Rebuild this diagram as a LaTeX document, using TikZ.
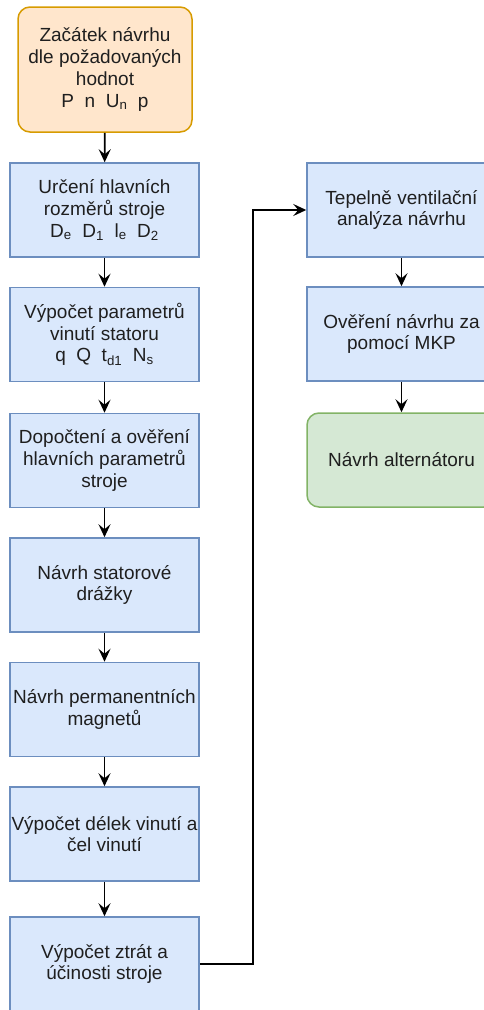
\documentclass[tikz,border=0pt]{standalone}
\usepackage{fontspec}
\setmainfont{Liberation Sans}
\usepackage{tikz}
\usetikzlibrary{arrows,arrows.meta}
\usetikzlibrary{calc, positioning}
\definecolor{startF}{HTML}{FFE6CC}
\definecolor{startD}{HTML}{D79B00}
\definecolor{workF}{HTML}{DAE8FC}
\definecolor{workD}{HTML}{6C8EBF}
\definecolor{endF}{HTML}{D5E8D4}
\definecolor{endD}{HTML}{82B366}
\tikzset{
    boxB/.style={draw, line width=1.5pt, align=center, inner sep=1pt,
        font=\fontsize{19}{21.7}\selectfont, text=black!88},
    startB/.style={boxB, fill=startF, draw=startD, rounded corners=12pt,
        minimum width=174pt, minimum height=125pt},
    workB/.style={boxB, fill=workF, draw=workD,
        minimum width=189pt, minimum height=94pt},
    endB/.style={boxB, fill=endF, draw=endD, rounded corners=12pt,
        minimum width=189pt, minimum height=94pt},
    arr/.style={-{Stealth[length=13pt,width=12pt,inset=5pt]}, line width=1.7pt, black}
}

\begin{document}
\begin{tikzpicture}[x=1pt, y=-1pt]
    \def \xl {104.5}
    \def \xr {401.5}
    \useasboundingbox (0,0) rectangle (484,1010);
    \clip (0,0) rectangle (484,1010);
    \node[startB] (start) at (105, 69.5) {Začátek návrhu\\dle požadovaných\\hodnot\\P\ \ n\ \ U\textsubscript{n}\ \ p};
    \node[workB] (b1) at (\xl, 210) {Určení hlavních\\rozměrů stroje\\D\textsubscript{e}\ \ D\textsubscript{1}\ \ l\textsubscript{e}\ \ D\textsubscript{2}};
    \node[workB] (b2) at (\xl, 334.5) {Výpočet parametrů\\vinutí statoru\\q\ \ Q\ \ t\textsubscript{d1}\ \ N\textsubscript{s}};
    \node[workB] (b3) at (\xl, 460.5) {Dopočtení a ověření\\hlavních parametrů\\stroje};
    \node[workB] (b4) at (\xl, 585) {Návrh statorové\\drážky};
    \node[workB] (b5) at (\xl, 709.5) {Návrh permanentních\\magnetů};
    \node[workB] (b6) at (\xl, 834) {Výpočet délek vinutí a\\čel vinutí};
    \node[workB] (b7) at (\xl, 964) {Výpočet ztrát a\\účinosti stroje};
    \node[workB] (r1) at (\xr, 210) {Tepelně ventilační\\analýza návrhu};
    \node[workB] (r2) at (\xr, 334) {Ověření návrhu za\\pomocí MKP};
    \node[endB] (r3) at (\xr, 460) {Návrh alternátoru};
    \draw[arr] (start) -- (b1);
    \draw[arr] (b1) -- (b2);
    \draw[arr] (b2) -- (b3);
    \draw[arr] (b3) -- (b4);
    \draw[arr] (b4) -- (b5);
    \draw[arr] (b5) -- (b6);
    \draw[arr] (b6) -- (b7);
    \draw[arr] (b7.east) -| ($(b7.east)!.5!(r1.west)$) |- (r1.west);
    \draw[arr] (r1) -- (r2);
    \draw[arr] (r2) -- (r3);
\end{tikzpicture}
\end{document}
